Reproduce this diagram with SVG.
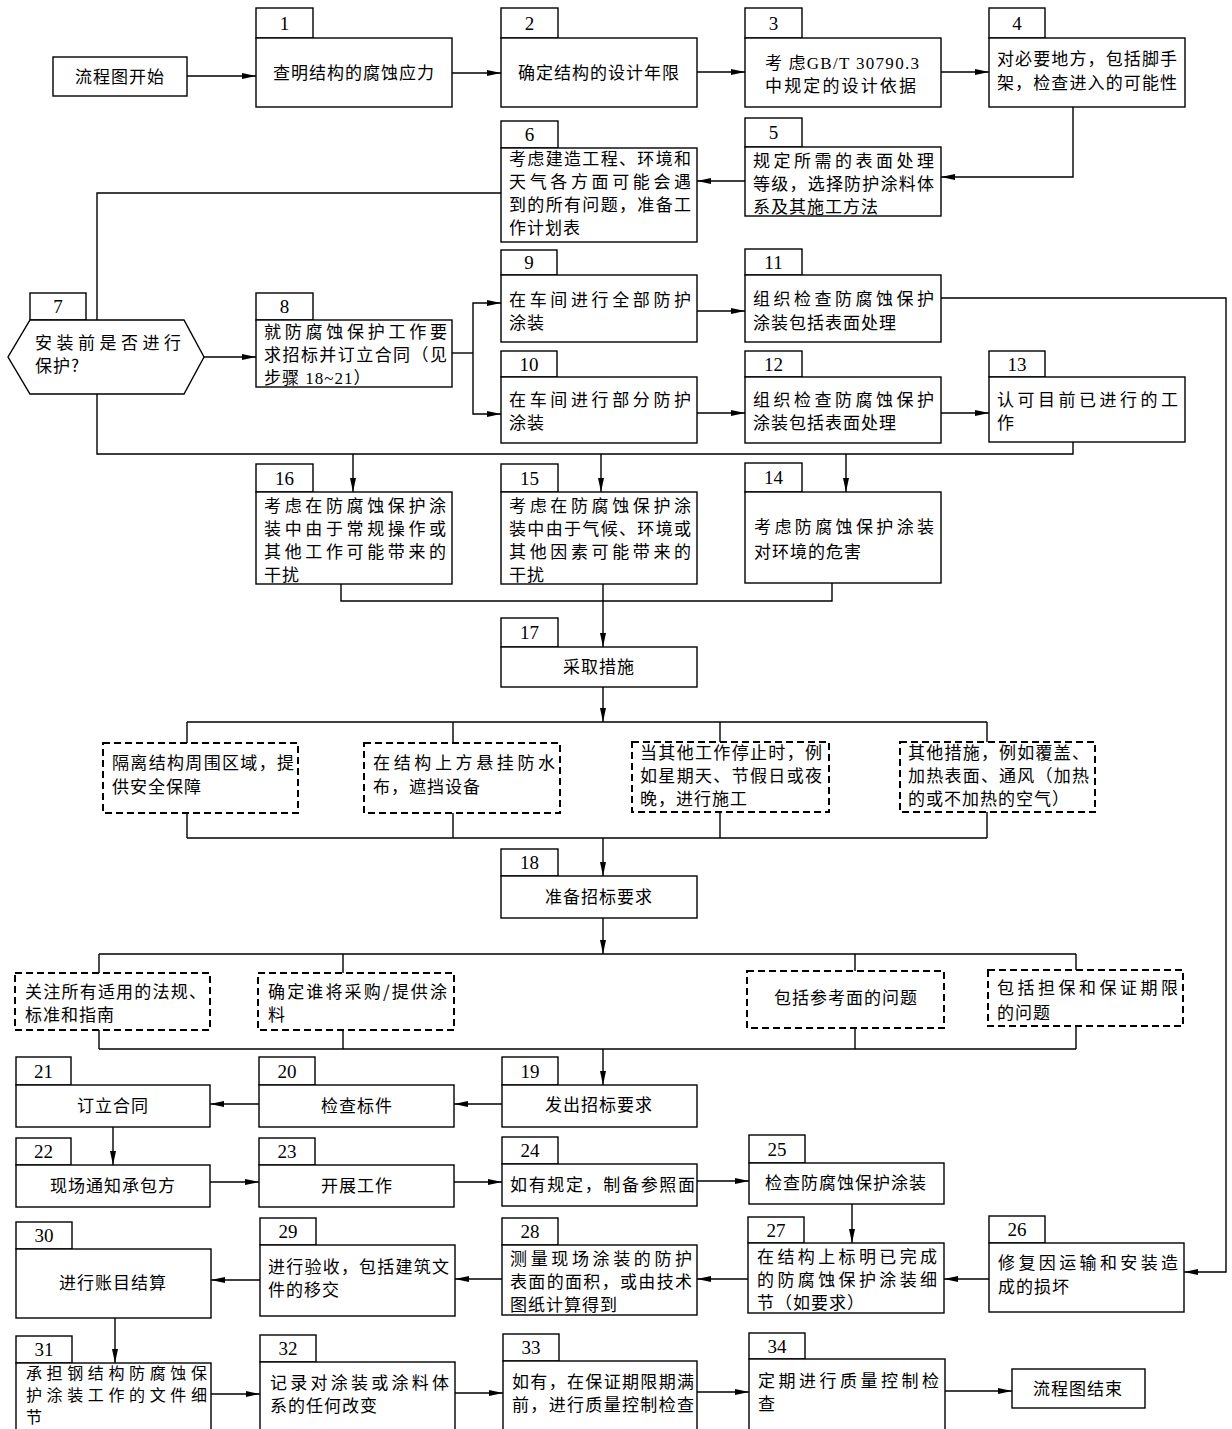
<svg xmlns="http://www.w3.org/2000/svg" width="1232" height="1429" viewBox="0 0 1232 1429">
<style>
.b{fill:#fff;stroke:#000;stroke-width:1.4}
.d{fill:#fff;stroke:#000;stroke-width:2;stroke-dasharray:7,4}
.t{font-family:"Noto Sans CJK SC","Noto Sans",sans-serif;font-size:17px;letter-spacing:1px;fill:#000}
.s{font-size:16px;letter-spacing:2px}
.c{text-anchor:middle}
.n{font-family:"Liberation Serif",serif;font-size:19px;fill:#000;text-anchor:middle}
.l{fill:none;stroke:#000;stroke-width:1.4}
.a{fill:none;stroke:#000;stroke-width:1.4;marker-end:url(#ah)}
</style>
<defs>
<marker id="ah" viewBox="0 0 14 6" refX="14" refY="3" markerWidth="14" markerHeight="6" markerUnits="userSpaceOnUse" orient="auto"><path d="M0,0 L14,3 L0,6 z" fill="#000"/></marker>
</defs>
<rect width="1232" height="1429" fill="#fff"/>

<g id="connectors">
<line class="a" x1="187" y1="76" x2="256" y2="76"/>
<line class="a" x1="452" y1="73" x2="501" y2="73"/>
<line class="a" x1="697" y1="72" x2="745" y2="72"/>
<line class="a" x1="941" y1="72" x2="989" y2="72"/>
<polyline class="a" points="1073,107 1073,177 941,177"/>
<line class="a" x1="745" y1="181" x2="697" y2="181"/>
<polyline class="l" points="501,193 97,193 97,320"/>
<line class="a" x1="204" y1="357" x2="256" y2="357"/>
<polyline class="l" points="452,353 473,353"/>
<polyline class="a" points="473,353 473,303 501,303"/>
<polyline class="a" points="473,353 473,414 501,414"/>
<line class="a" x1="697" y1="311" x2="745" y2="311"/>
<line class="a" x1="697" y1="413" x2="745" y2="413"/>
<line class="a" x1="941" y1="413" x2="989" y2="413"/>
<polyline class="a" points="941,298 1226,298 1226,1272 1184,1272"/>
<polyline class="l" points="97,394 97,454 1073,454 1073,442"/>
<line class="a" x1="353" y1="454" x2="353" y2="492"/>
<line class="a" x1="601" y1="454" x2="601" y2="492"/>
<line class="a" x1="846" y1="454" x2="846" y2="492"/>
<polyline class="l" points="341,584 341,601 832,601 832,583"/>
<line class="a" x1="603" y1="584" x2="603" y2="647"/>
<line class="a" x1="603" y1="687" x2="603" y2="722"/>
<line class="l" x1="187" y1="722" x2="987" y2="722"/>
<line class="l" x1="187" y1="722" x2="187" y2="743"/>
<line class="l" x1="453" y1="722" x2="453" y2="743"/>
<line class="l" x1="720" y1="722" x2="720" y2="742"/>
<line class="l" x1="987" y1="722" x2="987" y2="742"/>
<line class="l" x1="187" y1="813" x2="187" y2="838"/>
<line class="l" x1="453" y1="813" x2="453" y2="838"/>
<line class="l" x1="720" y1="812" x2="720" y2="838"/>
<line class="l" x1="987" y1="812" x2="987" y2="838"/>
<line class="l" x1="187" y1="838" x2="987" y2="838"/>
<line class="a" x1="603" y1="838" x2="603" y2="876"/>
<line class="a" x1="603" y1="918" x2="603" y2="954"/>
<line class="l" x1="99" y1="954" x2="1076" y2="954"/>
<line class="l" x1="99" y1="954" x2="99" y2="973"/>
<line class="l" x1="343" y1="954" x2="343" y2="973"/>
<line class="l" x1="855" y1="954" x2="855" y2="971"/>
<line class="l" x1="1076" y1="954" x2="1076" y2="970"/>
<line class="l" x1="99" y1="1030" x2="99" y2="1049"/>
<line class="l" x1="343" y1="1030" x2="343" y2="1049"/>
<line class="l" x1="855" y1="1028" x2="855" y2="1049"/>
<line class="l" x1="1076" y1="1026" x2="1076" y2="1049"/>
<line class="l" x1="99" y1="1049" x2="1076" y2="1049"/>
<line class="a" x1="603" y1="1049" x2="603" y2="1085"/>
<line class="a" x1="502" y1="1104" x2="454" y2="1104"/>
<line class="a" x1="259" y1="1104" x2="210" y2="1104"/>
<line class="a" x1="113" y1="1127" x2="113" y2="1165"/>
<line class="a" x1="210" y1="1182" x2="259" y2="1182"/>
<line class="a" x1="454" y1="1182" x2="502" y2="1182"/>
<line class="a" x1="697" y1="1181" x2="749" y2="1181"/>
<line class="a" x1="852" y1="1204" x2="852" y2="1243"/>
<line class="a" x1="989" y1="1279" x2="944" y2="1279"/>
<line class="a" x1="748" y1="1279" x2="697" y2="1279"/>
<line class="a" x1="502" y1="1279" x2="455" y2="1279"/>
<line class="a" x1="260" y1="1280" x2="211" y2="1280"/>
<line class="a" x1="115" y1="1318" x2="115" y2="1363"/>
<line class="a" x1="211" y1="1394" x2="260" y2="1394"/>
<line class="a" x1="455" y1="1393" x2="503" y2="1393"/>
<line class="a" x1="697" y1="1392" x2="749" y2="1392"/>
<line class="a" x1="945" y1="1391" x2="1012" y2="1391"/>
</g>

<g id="start"><rect class="b" x="53" y="57" width="134" height="39"/><text class="t c" x="120" y="83">流程图开始</text></g>

<g id="n1"><rect class="b" x="256" y="8" width="57" height="30"/><text class="n" x="284.5" y="30">1</text><rect class="b" x="256" y="38" width="196" height="69"/><text class="t c" x="354" y="79">查明结构的腐蚀应力</text></g>
<g id="n2"><rect class="b" x="501" y="8" width="57" height="30"/><text class="n" x="529.5" y="30">2</text><rect class="b" x="501" y="38" width="196" height="69"/><text class="t c" x="599" y="79">确定结构的设计年限</text></g>
<g id="n3"><rect class="b" x="745" y="8" width="57" height="30"/><text class="n" x="773.5" y="30">3</text><rect class="b" x="745" y="38" width="196" height="69"/><text class="t" x="765" y="69" textLength="155" lengthAdjust="spacing">考 虑<tspan font-family="Liberation Serif">GB/T 30790.3</tspan></text><text class="t" x="765" y="92" textLength="152" lengthAdjust="spacing">中规定的设计依据</text></g>
<g id="n4"><rect class="b" x="989" y="8" width="56" height="30"/><text class="n" x="1017" y="30">4</text><rect class="b" x="989" y="38" width="196" height="69"/><text class="t" x="997" y="65" textLength="181" lengthAdjust="spacing">对必要地方，包括脚手</text><text class="t" x="997" y="89" textLength="181" lengthAdjust="spacing">架，检查进入的可能性</text></g>
<g id="n5"><rect class="b" x="745" y="118" width="57" height="29"/><text class="n" x="773.5" y="139">5</text><rect class="b" x="745" y="147" width="196" height="69"/><text class="t" x="753" y="167" textLength="182" lengthAdjust="spacing">规定所需的表面处理</text><text class="t" x="753" y="190" textLength="182" lengthAdjust="spacing">等级，选择防护涂料体</text><text class="t" x="753" y="213">系及其施工方法</text></g>
<g id="n6"><rect class="b" x="501" y="121" width="57" height="27"/><text class="n" x="529.5" y="141">6</text><rect class="b" x="501" y="148" width="196" height="94"/><text class="t" x="509" y="165" textLength="183" lengthAdjust="spacing">考虑建造工程、环境和</text><text class="t" x="509" y="188" textLength="183" lengthAdjust="spacing">天气各方面可能会遇</text><text class="t" x="509" y="211" textLength="183" lengthAdjust="spacing">到的所有问题，准备工</text><text class="t" x="509" y="234">作计划表</text></g>

<g id="n7"><rect class="b" x="30" y="293" width="56" height="27"/><text class="n" x="58" y="313">7</text><polygon class="b" points="30,320 184,320 204,357 184,394 30,394 8,357"/><text class="t" x="35" y="349" textLength="147" lengthAdjust="spacing">安装前是否进行</text><text class="t" x="35" y="372">保护?</text></g>
<g id="n8"><rect class="b" x="256" y="293" width="57" height="27"/><text class="n" x="284.5" y="313">8</text><rect class="b" x="256" y="320" width="196" height="67"/><text class="t" x="264" y="338" textLength="184" lengthAdjust="spacing">就防腐蚀保护工作要</text><text class="t" x="264" y="361" textLength="184" lengthAdjust="spacing">求招标并订立合同（见</text><text class="t" x="264" y="384">步骤<tspan font-family="Liberation Serif"> 18~21</tspan>）</text></g>
<g id="n9"><rect class="b" x="501" y="250" width="56" height="25"/><text class="n" x="529" y="269">9</text><rect class="b" x="501" y="275" width="196" height="67"/><text class="t" x="509" y="306" textLength="183" lengthAdjust="spacing">在车间进行全部防护</text><text class="t" x="509" y="329">涂装</text></g>
<g id="n10"><rect class="b" x="501" y="351" width="56" height="26"/><text class="n" x="529" y="371">10</text><rect class="b" x="501" y="377" width="196" height="66"/><text class="t" x="509" y="406" textLength="183" lengthAdjust="spacing">在车间进行部分防护</text><text class="t" x="509" y="429">涂装</text></g>
<g id="n11"><rect class="b" x="745" y="249" width="57" height="26"/><text class="n" x="773.5" y="269">11</text><rect class="b" x="745" y="275" width="196" height="67"/><text class="t" x="753" y="305" textLength="182" lengthAdjust="spacing">组织检查防腐蚀保护</text><text class="t" x="753" y="329">涂装包括表面处理</text></g>
<g id="n12"><rect class="b" x="745" y="351" width="57" height="26"/><text class="n" x="773.5" y="371">12</text><rect class="b" x="745" y="377" width="196" height="66"/><text class="t" x="753" y="406" textLength="182" lengthAdjust="spacing">组织检查防腐蚀保护</text><text class="t" x="753" y="429">涂装包括表面处理</text></g>
<g id="n13"><rect class="b" x="989" y="351" width="56" height="26"/><text class="n" x="1017" y="371">13</text><rect class="b" x="989" y="377" width="196" height="65"/><text class="t" x="997" y="406" textLength="182" lengthAdjust="spacing">认可目前已进行的工</text><text class="t" x="997" y="429">作</text></g>

<g id="n16"><rect class="b" x="256" y="464" width="57" height="28"/><text class="n" x="284.5" y="485">16</text><rect class="b" x="256" y="492" width="196" height="92"/><text class="t" x="264" y="512" textLength="183" lengthAdjust="spacing">考虑在防腐蚀保护涂</text><text class="t" x="264" y="535" textLength="183" lengthAdjust="spacing">装中由于常规操作或</text><text class="t" x="264" y="558" textLength="183" lengthAdjust="spacing">其他工作可能带来的</text><text class="t" x="264" y="581">干扰</text></g>
<g id="n15"><rect class="b" x="501" y="464" width="57" height="28"/><text class="n" x="529.5" y="485">15</text><rect class="b" x="501" y="492" width="196" height="92"/><text class="t" x="509" y="512" textLength="183" lengthAdjust="spacing">考虑在防腐蚀保护涂</text><text class="t" x="509" y="535" textLength="183" lengthAdjust="spacing">装中由于气候、环境或</text><text class="t" x="509" y="558" textLength="183" lengthAdjust="spacing">其他因素可能带来的</text><text class="t" x="509" y="581">干扰</text></g>
<g id="n14"><rect class="b" x="745" y="463" width="57" height="29"/><text class="n" x="773.5" y="484">14</text><rect class="b" x="745" y="492" width="196" height="91"/><text class="t" x="754" y="533" textLength="181" lengthAdjust="spacing">考虑防腐蚀保护涂装</text><text class="t" x="754" y="558">对环境的危害</text></g>
<g id="n17"><rect class="b" x="501" y="618" width="57" height="29"/><text class="n" x="529.5" y="639">17</text><rect class="b" x="501" y="647" width="196" height="40"/><text class="t c" x="599" y="673">采取措施</text></g>

<g id="m1"><rect class="d" x="103" y="743" width="195" height="70"/><text class="t" x="112" y="769" textLength="183" lengthAdjust="spacing">隔离结构周围区域，提</text><text class="t" x="112" y="793">供安全保障</text></g>
<g id="m2"><rect class="d" x="364" y="743" width="196" height="70"/><text class="t" x="373" y="769" textLength="183" lengthAdjust="spacing">在结构上方悬挂防水</text><text class="t" x="373" y="793">布，遮挡设备</text></g>
<g id="m3"><rect class="d" x="632" y="742" width="197" height="70"/><text class="t" x="640" y="759" textLength="183" lengthAdjust="spacing">当其他工作停止时，例</text><text class="t" x="640" y="782" textLength="183" lengthAdjust="spacing">如星期天、节假日或夜</text><text class="t" x="640" y="805">晚，进行施工</text></g>
<g id="m4"><rect class="d" x="900" y="742" width="195" height="70"/><text class="t" x="908" y="759" textLength="182" lengthAdjust="spacing">其他措施，例如覆盖、</text><text class="t" x="908" y="782" textLength="182" lengthAdjust="spacing">加热表面、通风（加热</text><text class="t" x="908" y="805">的或不加热的空气）</text></g>

<g id="n18"><rect class="b" x="501" y="849" width="57" height="27"/><text class="n" x="529.5" y="869">18</text><rect class="b" x="501" y="876" width="196" height="42"/><text class="t c" x="599" y="903">准备招标要求</text></g>

<g id="r1"><rect class="d" x="15" y="973" width="195" height="57"/><text class="t" x="25" y="998" textLength="182" lengthAdjust="spacing">关注所有适用的法规、</text><text class="t" x="25" y="1021">标准和指南</text></g>
<g id="r2"><rect class="d" x="258" y="973" width="196" height="57"/><text class="t" x="268" y="998" textLength="180" lengthAdjust="spacing">确定谁将采购/提供涂</text><text class="t" x="268" y="1021">料</text></g>
<g id="r3"><rect class="d" x="747" y="971" width="197" height="57"/><text class="t c" x="846" y="1004">包括参考面的问题</text></g>
<g id="r4"><rect class="d" x="988" y="970" width="195" height="56"/><text class="t" x="997" y="994" textLength="182" lengthAdjust="spacing">包括担保和保证期限</text><text class="t" x="997" y="1019">的问题</text></g>

<g id="n21"><rect class="b" x="16" y="1057" width="55" height="28"/><text class="n" x="43.5" y="1078">21</text><rect class="b" x="16" y="1085" width="194" height="42"/><text class="t c" x="113" y="1112">订立合同</text></g>
<g id="n20"><rect class="b" x="259" y="1057" width="56" height="28"/><text class="n" x="287" y="1078">20</text><rect class="b" x="259" y="1085" width="195" height="42"/><text class="t c" x="357" y="1112">检查标件</text></g>
<g id="n19"><rect class="b" x="502" y="1057" width="56" height="28"/><text class="n" x="530" y="1078">19</text><rect class="b" x="502" y="1085" width="195" height="42"/><text class="t c" x="599" y="1111">发出招标要求</text></g>
<g id="n22"><rect class="b" x="16" y="1138" width="55" height="27"/><text class="n" x="43.5" y="1158">22</text><rect class="b" x="16" y="1165" width="194" height="42"/><text class="t c" x="113" y="1192">现场通知承包方</text></g>
<g id="n23"><rect class="b" x="259" y="1138" width="56" height="27"/><text class="n" x="287" y="1158">23</text><rect class="b" x="259" y="1165" width="195" height="42"/><text class="t c" x="357" y="1192">开展工作</text></g>
<g id="n24"><rect class="b" x="502" y="1137" width="56" height="27"/><text class="n" x="530" y="1157">24</text><rect class="b" x="502" y="1164" width="195" height="42"/><text class="t" x="510" y="1191" textLength="186" lengthAdjust="spacing">如有规定，制备参照面</text></g>
<g id="n25"><rect class="b" x="749" y="1135" width="56" height="28"/><text class="n" x="777" y="1156">25</text><rect class="b" x="749" y="1163" width="195" height="41"/><text class="t c" x="846" y="1189">检查防腐蚀保护涂装</text></g>
<g id="n26"><rect class="b" x="989" y="1216" width="56" height="27"/><text class="n" x="1017" y="1236">26</text><rect class="b" x="989" y="1243" width="195" height="69"/><text class="t" x="998" y="1269" textLength="181" lengthAdjust="spacing">修复因运输和安装造</text><text class="t" x="998" y="1293">成的损坏</text></g>
<g id="n27"><rect class="b" x="748" y="1217" width="56" height="26"/><text class="n" x="776" y="1237">27</text><rect class="b" x="748" y="1243" width="196" height="70"/><text class="t" x="757" y="1263" textLength="181" lengthAdjust="spacing">在结构上标明已完成</text><text class="t" x="757" y="1286" textLength="181" lengthAdjust="spacing">的防腐蚀保护涂装细</text><text class="t" x="757" y="1309">节（如要求）</text></g>
<g id="n28"><rect class="b" x="502" y="1218" width="56" height="27"/><text class="n" x="530" y="1238">28</text><rect class="b" x="502" y="1245" width="195" height="70"/><text class="t" x="510" y="1265" textLength="183" lengthAdjust="spacing">测量现场涂装的防护</text><text class="t" x="510" y="1288" textLength="183" lengthAdjust="spacing">表面的面积，或由技术</text><text class="t" x="510" y="1311">图纸计算得到</text></g>
<g id="n29"><rect class="b" x="260" y="1218" width="56" height="27"/><text class="n" x="288" y="1238">29</text><rect class="b" x="260" y="1245" width="195" height="71"/><text class="t" x="268" y="1273" textLength="182" lengthAdjust="spacing">进行验收，包括建筑文</text><text class="t" x="268" y="1296">件的移交</text></g>
<g id="n30"><rect class="b" x="16" y="1222" width="56" height="27"/><text class="n" x="44" y="1242">30</text><rect class="b" x="16" y="1249" width="195" height="69"/><text class="t c" x="113" y="1289">进行账目结算</text></g>
<g id="n31"><rect class="b" x="16" y="1336" width="56" height="27"/><text class="n" x="44" y="1356">31</text><rect class="b" x="16" y="1363" width="195" height="80"/><text class="t s" x="26" y="1379" textLength="183" lengthAdjust="spacing">承担钢结构防腐蚀保</text><text class="t s" x="26" y="1401" textLength="183" lengthAdjust="spacing">护涂装工作的文件细</text><text class="t s" x="26" y="1423">节</text></g>
<g id="n32"><rect class="b" x="260" y="1335" width="56" height="27"/><text class="n" x="288" y="1355">32</text><rect class="b" x="260" y="1362" width="195" height="80"/><text class="t" x="270" y="1389" textLength="180" lengthAdjust="spacing">记录对涂装或涂料体</text><text class="t" x="270" y="1412">系的任何改变</text></g>
<g id="n33"><rect class="b" x="503" y="1334" width="56" height="27"/><text class="n" x="531" y="1354">33</text><rect class="b" x="503" y="1361" width="194" height="80"/><text class="t" x="512" y="1388" textLength="183" lengthAdjust="spacing">如有，在保证期限期满</text><text class="t" x="512" y="1411" textLength="183" lengthAdjust="spacing">前，进行质量控制检查</text></g>
<g id="n34"><rect class="b" x="749" y="1333" width="56" height="26"/><text class="n" x="777" y="1353">34</text><rect class="b" x="749" y="1359" width="196" height="80"/><text class="t" x="758" y="1387" textLength="182" lengthAdjust="spacing">定期进行质量控制检</text><text class="t" x="758" y="1410">查</text></g>
<g id="end"><rect class="b" x="1012" y="1369" width="133" height="39"/><text class="t c" x="1078" y="1395">流程图结束</text></g>
</svg>
